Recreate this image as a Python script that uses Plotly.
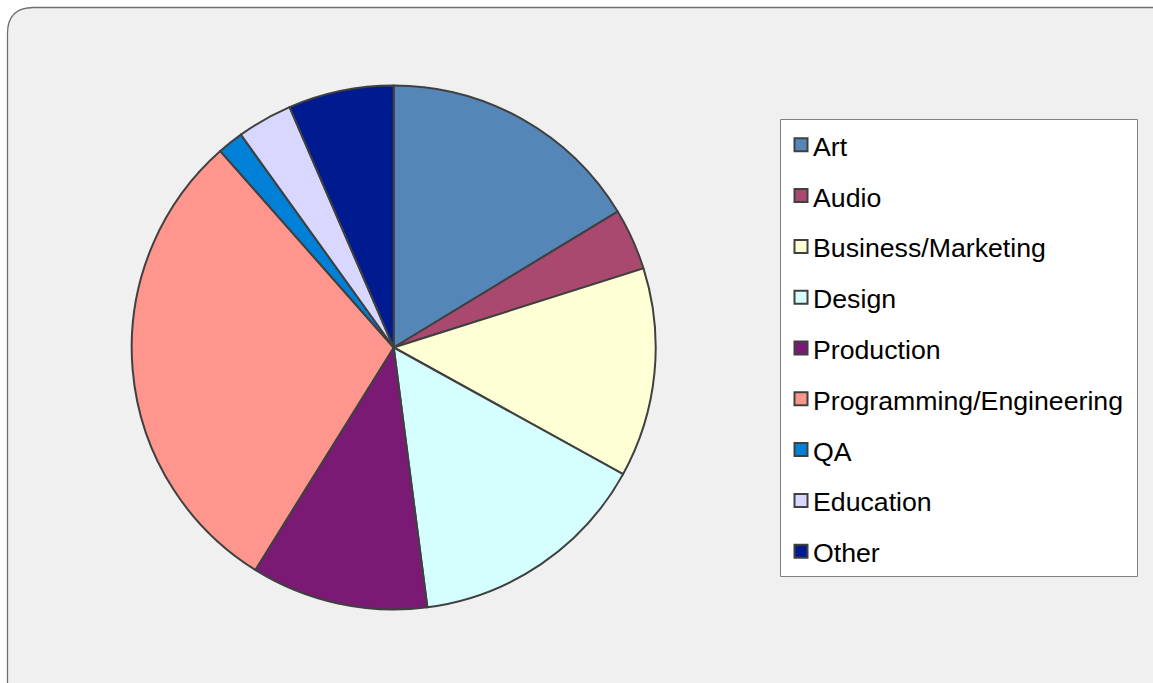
import plotly.graph_objects as go

# ---- data ----
categories = ["Art", "Audio", "Business/Marketing", "Design", "Production",
              "Programming/Engineering", "QA", "Education", "Other"]
values = [16.3, 3.8, 12.9, 14.9, 10.9, 29.6, 1.6, 3.4, 6.5]
colors = ["#5586B8", "#A9496F", "#FFFFD5", "#D5FFFF", "#7B1A75",
          "#FF968D", "#0080D6", "#D7D7FF", "#001A8F"]

W, H = 1153, 683


def px(x):
    return x / W


def py(y):
    return 1 - y / H


cx, cy, r = 393.7, 347.5, 262.0

fig = go.Figure()
fig.add_trace(go.Pie(
    labels=categories,
    values=values,
    sort=False,
    direction="clockwise",
    rotation=0,
    marker=dict(colors=colors, line=dict(color="#404040", width=2)),
    textinfo="none",
    hoverinfo="label+percent",
    showlegend=False,
    domain=dict(x=[px(cx - r), px(cx + r)], y=[py(cy + r), py(cy - r)]),
))

shapes = []
# rounded chart background
x0, y0, x1, y1, rad = 7.5, 7.5, 1200, 730, 26
path = (f"M {px(x0)},{py(y0 + rad)} "
        f"Q {px(x0)},{py(y0)} {px(x0 + rad)},{py(y0)} "
        f"L {px(x1 - rad)},{py(y0)} "
        f"Q {px(x1)},{py(y0)} {px(x1)},{py(y0 + rad)} "
        f"L {px(x1)},{py(y1 - rad)} "
        f"Q {px(x1)},{py(y1)} {px(x1 - rad)},{py(y1)} "
        f"L {px(x0 + rad)},{py(y1)} "
        f"Q {px(x0)},{py(y1)} {px(x0)},{py(y1 - rad)} Z")
shapes.append(dict(type="path", xref="paper", yref="paper", path=path,
                   fillcolor="#F0F0F0", line=dict(color="#707070", width=1.3),
                   layer="below"))
# legend box
shapes.append(dict(type="rect", xref="paper", yref="paper",
                   x0=px(780.5), x1=px(1137.5), y0=py(576.5), y1=py(119.5),
                   fillcolor="#FFFFFF", line=dict(color="#808080", width=1),
                   layer="below"))

annotations = []
first_y, step = 144.8, 50.8
for i, (cat, col) in enumerate(zip(categories, colors)):
    yc = first_y + i * step
    shapes.append(dict(type="rect", xref="paper", yref="paper",
                       x0=px(794.5), x1=px(807.5), y0=py(yc + 6.5), y1=py(yc - 6.5),
                       fillcolor=col, line=dict(color="#404040", width=2)))
    annotations.append(dict(xref="paper", yref="paper", x=px(811), y=py(yc + 2),
                            xanchor="left", yanchor="middle", text=cat,
                            showarrow=False,
                            font=dict(family="Liberation Sans, Arial, sans-serif",
                                      size=26.7, color="#000000")))

fig.update_layout(
    width=W, height=H,
    margin=dict(l=0, r=0, t=0, b=0),
    paper_bgcolor="#FFFFFF",
    plot_bgcolor="#FFFFFF",
    shapes=shapes,
    annotations=annotations,
)

fig.write_html(
    "out.html",
    config={"displayModeBar": False},
    post_script="document.body.style.margin='0';document.body.style.overflow='hidden';",
)
